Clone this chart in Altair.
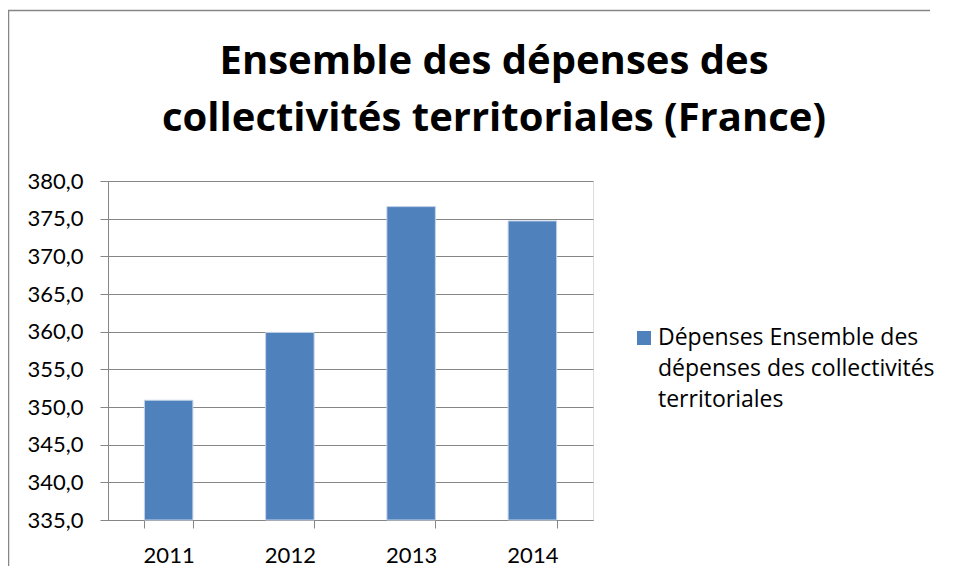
import altair as alt
import pandas as pd

# ---- data ----
years = ["2011", "2012", "2013", "2014"]
values = [350.9, 359.9, 376.6, 374.7]
y_ticks = [335, 340, 345, 350, 355, 360, 365, 370, 375, 380]
y_min, y_max = 335, 380
title_lines = ["Ensemble des dépenses des", "collectivités territoriales (France)"]
legend_lines = ["Dépenses Ensemble des", "dépenses des collectivités", "territoriales"]

GRAY = "#868686"
BLUE = "#4F81BD"
FONT = "Lato"
TFONT = "Open Sans"

df = pd.DataFrame({"year": years, "value": values})

bars = alt.Chart(df).mark_bar(color=BLUE, stroke="#C5D3E8", strokeWidth=1).encode(
    x=alt.X(
        "year:N", sort=years, title=None,
        scale=alt.Scale(paddingInner=0.6, paddingOuter=0.3),
        axis=alt.Axis(labelAngle=0, tickBand="extent", tickSize=8, labelPadding=17,
                      labelFontSize=22, labelFont=FONT, labelColor="black",
                      domainColor=GRAY, tickColor=GRAY, grid=False),
    ),
    y=alt.Y(
        "value:Q", title=None,
        scale=alt.Scale(domain=[y_min, y_max], nice=False, zero=False),
        axis=alt.Axis(values=y_ticks,
                      labelExpr="replace(format(datum.value, '.1f'), '.', ',')",
                      tickSize=8, labelPadding=17, labelFontSize=22, labelFont=FONT,
                      labelColor="black", domainColor=GRAY, tickColor=GRAY,
                      grid=True, gridColor=GRAY, gridOpacity=1),
    ),
    y2=alt.datum(y_min),
)

title = alt.Chart(pd.DataFrame({"t": ["\n".join(title_lines)]})).mark_text(
    font=TFONT, fontSize=40, fontWeight="bold", lineBreak="\n", lineHeight=57,
    align="center", baseline="alphabetic", color="black",
).encode(x=alt.value(386), y=alt.value(-107), text="t:N")

one = pd.DataFrame({"s": ["\n".join(legend_lines)]})
leg_sq = alt.Chart(one).mark_square(size=196, color=BLUE, opacity=1).encode(
    x=alt.value(536), y=alt.value(157))
leg_txt = alt.Chart(one).mark_text(
    font=TFONT, fontSize=23, lineBreak="\n", lineHeight=31, align="left",
    baseline="alphabetic", color="black",
).encode(x=alt.value(550), y=alt.value(164), text="s:N")

border_top = alt.Chart(one).mark_rule(color=GRAY, strokeWidth=1.5).encode(
    x=alt.value(-100), x2=alt.value(822), y=alt.value(-170.5))
border_left = alt.Chart(one).mark_rule(color=GRAY, strokeWidth=1.5).encode(
    x=alt.value(-99.5), y=alt.value(-171), y2=alt.value(385))

chart = alt.layer(bars, title, leg_sq, leg_txt, border_top, border_left).properties(
    width=485, height=339,
    padding={"left": 100, "top": 173, "right": 352, "bottom": 46},
    autosize="none",
).configure_view(stroke=None).configure(background="white")

chart.save("out.html", embed_options={"renderer": "svg", "actions": False})
